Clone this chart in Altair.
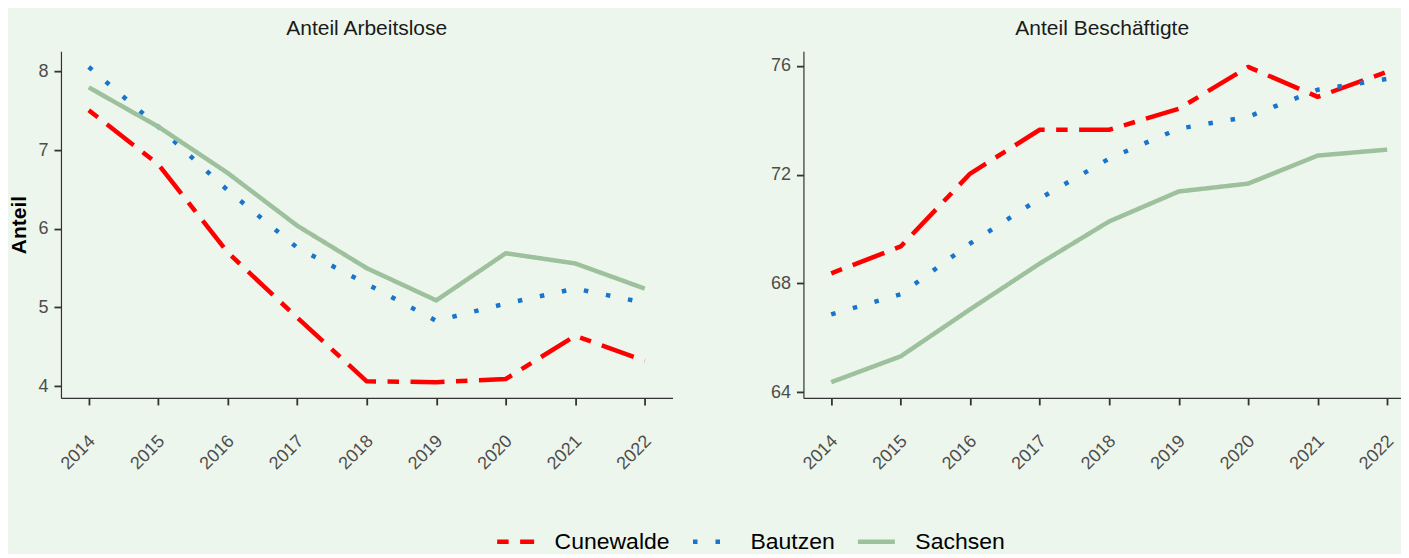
import altair as alt
import pandas as pd

# ---------------- data ----------------
years = [2014, 2015, 2016, 2017, 2018, 2019, 2020, 2021, 2022]
series = ["Cunewalde", "Bautzen", "Sachsen"]

arbeitslose_cunewalde = [7.51, 6.82, 5.70, 4.87, 4.06, 4.05, 4.09, 4.64, 4.32]
arbeitslose_bautzen = [8.06, 7.30, 6.49, 5.76, 5.30, 4.83, 5.05, 5.24, 5.06]
arbeitslose_sachsen = [7.80, 7.30, 6.71, 6.04, 5.50, 5.09, 5.69, 5.56, 5.24]

beschaeftigte_cunewalde = [68.37, 69.36, 72.04, 73.65, 73.65, 74.42, 75.96, 74.86, 75.78]
beschaeftigte_bautzen = [66.86, 67.60, 69.47, 71.12, 72.59, 73.69, 74.13, 75.12, 75.52]
beschaeftigte_sachsen = [64.37, 65.32, 67.05, 68.73, 70.28, 71.38, 71.67, 72.70, 72.92]

panel_titles = ["Anteil Arbeitslose", "Anteil Beschäftigte"]
y_ticks_left = [4, 5, 6, 7, 8]
y_ticks_right = [64, 68, 72, 76]

colors = ["#FF0000", "#1874CD", "#9DC09D"]
dashes = [[11.5, 11.5, 34, 11.5], [4.5, 18], [1, 0]]

FONT = "Liberation Sans"
BG = "#EDF6EC"

W_LEFT = 612
W_RIGHT = 598  # right panel is cropped at the picture edge
H = 347


def make_df(lists):
    rows = []
    for name, vals in zip(series, lists):
        for y, v in zip(years, vals):
            rows.append({"Jahr": y, "Anteil": v, "Region": name})
    return pd.DataFrame(rows)


def expand(vals, frac=0.05):
    lo, hi = min(vals), max(vals)
    pad = (hi - lo) * frac
    return [lo - pad, hi + pad]


df_left = make_df([arbeitslose_cunewalde, arbeitslose_bautzen, arbeitslose_sachsen])
df_right = make_df([beschaeftigte_cunewalde, beschaeftigte_bautzen, beschaeftigte_sachsen])

x_domain_left = expand(years)
x_domain_right = [
    x_domain_left[0],
    x_domain_left[0] + (x_domain_left[1] - x_domain_left[0]) * W_RIGHT / W_LEFT,
]

legend = alt.Legend(
    orient="none",
    legendX=434,
    legendY=470,
    direction="horizontal",
    title=None,
    symbolType="stroke",
    symbolSize=1369,
    symbolStrokeWidth=4.5,
    labelFontSize=23,
    labelFont=FONT,
    labelColor="#000000",
    labelOffset=18,
    columnPadding=13,
    padding=0,
)


def panel(df, title, y_title, y_ticks, x_domain, width):
    return (
        alt.Chart(
            df,
            title=alt.TitleParams(
                title,
                fontSize=21,
                font=FONT,
                fontWeight="normal",
                color="#1A1A1A",
                anchor="middle",
                offset=12,
            ),
        )
        .mark_line(strokeWidth=4.5, strokeCap="butt", strokeJoin="round", clip=True)
        .encode(
            x=alt.X(
                "Jahr:Q",
                scale=alt.Scale(domain=x_domain, nice=False, zero=False),
                axis=alt.Axis(
                    values=years,
                    format="d",
                    labelAngle=315,
                    labelAlign="right",
                    labelBaseline="top",
                    labelPadding=27,
                    labelOffset=-3,
                    title=None,
                ),
            ),
            y=alt.Y(
                "Anteil:Q",
                scale=alt.Scale(domain=expand(df["Anteil"].tolist()), nice=False, zero=False),
                axis=alt.Axis(values=y_ticks, title=y_title),
            ),
            color=alt.Color(
                "Region:N",
                scale=alt.Scale(domain=series, range=colors),
                legend=legend,
            ),
            strokeDash=alt.StrokeDash(
                "Region:N",
                scale=alt.Scale(domain=series, range=dashes),
                legend=legend,
            ),
        )
        .properties(width=width, height=H)
    )


left = panel(df_left, panel_titles[0], "Anteil", y_ticks_left, x_domain_left, W_LEFT)
right = panel(df_right, panel_titles[1], None, y_ticks_right, x_domain_right, W_RIGHT)

chart = (
    alt.hconcat(left, right, spacing=97)
    .properties(background=BG, padding={"left": 0, "top": 10, "right": 0, "bottom": 0})
    .configure_view(stroke=None)
    .configure_axis(
        grid=False,
        domainColor="#333333",
        domainWidth=1.2,
        tickColor="#333333",
        tickWidth=1.8,
        tickSize=7,
        labelFont=FONT,
        labelFontSize=18,
        labelColor="#4D4D4D",
        labelPadding=6,
        titleFont=FONT,
        titleFontSize=21,
        titleFontWeight="bold",
        titleColor="#000000",
        titlePadding=8,
    )
)

chart.save("out.html", embed_options={"renderer": "svg", "actions": False})
